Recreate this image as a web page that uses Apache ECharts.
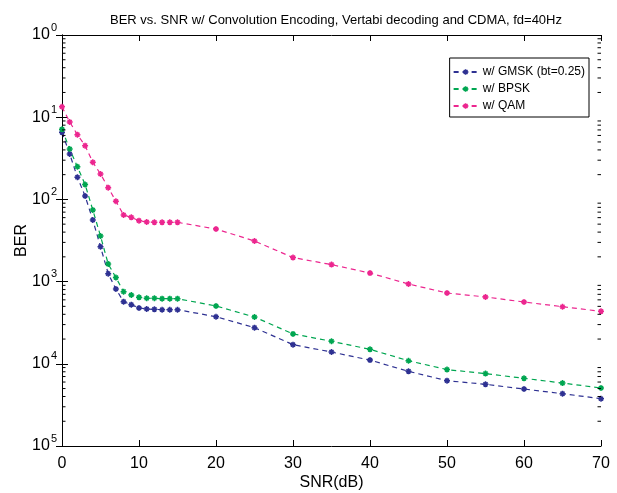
<!DOCTYPE html>
<html>
<head>
<meta charset="utf-8">
<script src="https://cdn.jsdelivr.net/npm/echarts@6/dist/echarts.min.js"></script>
<style>html,body{margin:0;padding:0;background:#fff}#c{width:617px;height:493px}</style>
</head>
<body>
<div id="c"></div>
<script>
var snr = [0,1,2,3,4,5,6,7,8,9,10,11,12,13,14,15,20,25,30,35,40,45,50,55,60,65,70];
var berGMSK = [0.0655,0.0357,0.0186,0.0110,0.00562,0.00266,0.00125,0.000813,0.000570,0.000524,0.000478,0.000464,0.000460,0.000455,0.000455,0.000455,0.000374,0.000275,0.000171,0.000139,0.000111,0.0000810,0.0000623,0.0000563,0.0000493,0.0000433,0.0000376];
var berBPSK = [0.0712,0.0410,0.0250,0.0152,0.00743,0.00359,0.00164,0.00112,0.000755,0.000688,0.000644,0.000627,0.000627,0.000620,0.000620,0.000620,0.000505,0.000371,0.000231,0.000188,0.000150,0.000109,0.0000850,0.0000760,0.0000666,0.0000583,0.0000508];
var berQAM = [0.134,0.0874,0.0613,0.0451,0.0283,0.0204,0.0139,0.0095,0.00646,0.00605,0.00551,0.00531,0.00526,0.00526,0.00526,0.00526,0.00436,0.00312,0.00196,0.00161,0.00127,0.000935,0.000727,0.000650,0.000565,0.000495,0.000435];
var seriesNames = ['w/ GMSK (bt=0.25)','w/ BPSK','w/ QAM'];
var titleText = 'BER vs. SNR w/ Convolution Encoding, Vertabi decoding and CDMA, fd=40Hz';
var xName = 'SNR(dB)';
var yName = 'BER';
var decades = [1e-5,1e-4,1e-3,1e-2,1e-1];
var mantissas = [2,3,4,5,6,7,8,9];

var colors = ['#2E3192','#00A651','#EC268F'];
var FONT = "'Liberation Sans',Arial,sans-serif";
var star = 'path://M5,0L5,10M0,5L10,5M1.6,1.6L8.4,8.4M8.4,1.6L1.6,8.4';

function pairs(xs, ys){ return xs.map(function(x,i){ return [x, ys[i]]; }); }

var minorData = [];
decades.forEach(function(d){ mantissas.forEach(function(m){ minorData.push([0, d*m]); }); });

function mkSeries(name, ys, color){
  return {
    type:'line', name:name, data:pairs(snr, ys),
    xAxisIndex:0, yAxisIndex:0,
    symbol:star, symbolSize:6, showSymbol:true,
    lineStyle:{color:color, width:1.2, type:[5,4]},
    itemStyle:{color:color, borderColor:color, borderWidth:1.5},
    emphasis:{disabled:true}, animation:false, z:3
  };
}

var axisLineStyle = {show:true, lineStyle:{color:'#000', width:1}};
var chart = echarts.init(document.getElementById('c'), null, {renderer:'canvas'});
chart.setOption({
  animation:false,
  backgroundColor:'#fff',
  title:{text:titleText, left:331, textAlign:'center', top:9,
    textStyle:{fontFamily:FONT, fontSize:13, fontWeight:'normal', color:'#000'}},
  grid:{left:62, right:16, top:35, bottom:47, containLabel:false, outerBoundsMode:'none'},
  legend:{
    data:seriesNames, icon:'inherit',
    orient:'vertical', right:28, top:58,
    backgroundColor:'#fff', borderColor:'#000', borderWidth:1,
    padding:[8,4,5,3], itemGap:5, itemWidth:24, itemHeight:7,
    itemStyle:{borderWidth:1.4},
    textStyle:{fontFamily:FONT, fontSize:12, color:'#000'}
  },
  xAxis:[
    {type:'value', min:0, max:70, interval:10, position:'bottom',
     axisLine:axisLineStyle, axisTick:{inside:true, length:6, lineStyle:{color:'#000'}},
     axisLabel:{color:'#000', fontFamily:FONT, fontSize:16, margin:10},
     splitLine:{show:false},
     name:xName, nameLocation:'middle', nameGap:29, nameMoveOverlap:false,
     nameTextStyle:{color:'#000', fontFamily:FONT, fontSize:16}},
    {type:'value', min:0, max:70, interval:10, position:'top',
     axisLine:axisLineStyle, axisTick:{inside:true, length:6, lineStyle:{color:'#000'}},
     axisLabel:{show:false}, splitLine:{show:false}}
  ],
  yAxis:[
    {type:'log', logBase:10, min:1e-5, max:1, position:'left',
     axisLine:axisLineStyle, axisTick:{inside:true, length:6, lineStyle:{color:'#000'}},
     splitLine:{show:false},
     axisLabel:{margin:5, formatter:function(v){
        var e = Math.round(-Math.log(v)/Math.LN10);
        return '{b|10}{s|' + e + '}';
      },
      rich:{
        b:{fontFamily:FONT, fontSize:16, color:'#000'},
        s:{fontFamily:FONT, fontSize:11, color:'#000', padding:[0,0,15,1]}
      }},
     name:yName, nameLocation:'middle', nameGap:32, nameRotate:90, nameMoveOverlap:false,
     nameTextStyle:{color:'#000', fontFamily:FONT, fontSize:16}},
    {type:'log', logBase:10, min:1e-5, max:1, position:'right',
     axisLine:axisLineStyle, axisTick:{inside:true, length:6, lineStyle:{color:'#000'}},
     axisLabel:{show:false}, splitLine:{show:false}}
  ],
  series:[
    mkSeries(seriesNames[0], berGMSK, colors[0]),
    mkSeries(seriesNames[1], berBPSK, colors[1]),
    mkSeries(seriesNames[2], berQAM, colors[2]),
    {type:'custom', name:'minorTicks', coordinateSystem:'cartesian2d',
     xAxisIndex:0, yAxisIndex:0, silent:true, clip:false, z:4,
     data:minorData,
     renderItem:function(params, api){
       var y = api.value(1);
       var pL = api.coord([0, y]);
       var pR = api.coord([70, y]);
       var st = {stroke:'#000', lineWidth:1};
       return {type:'group', children:[
         {type:'line', shape:{x1:pL[0], y1:pL[1], x2:pL[0]+3.5, y2:pL[1]}, style:st},
         {type:'line', shape:{x1:pR[0]-3.5, y1:pR[1], x2:pR[0], y2:pR[1]}, style:st}
       ]};
     }}
  ]
});
</script>
</body>
</html>
